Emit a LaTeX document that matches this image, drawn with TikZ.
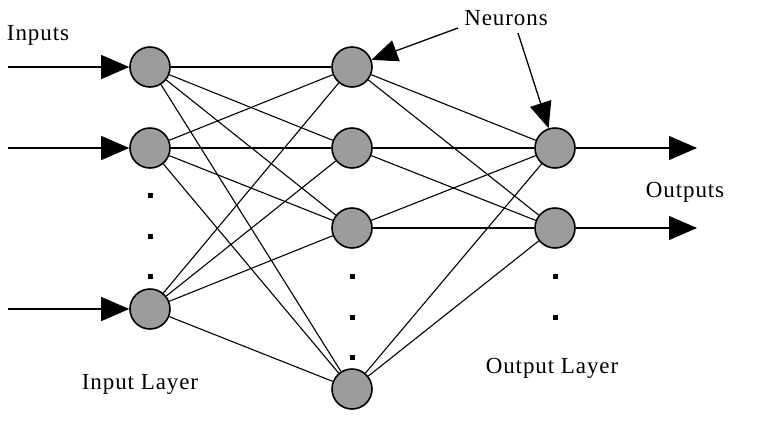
\documentclass[tikz,border=0pt]{standalone}
\usepackage{fontspec}
\setmainfont{Liberation Serif}
\usetikzlibrary{arrows.meta}
\definecolor{neurongray}{HTML}{9C9C9C}
\tikzset{
  neuron/.style={circle,draw=black,line width=1.6pt,fill=neurongray,minimum size=40pt,inner sep=0pt},
  link/.style={line width=1.1pt},
  flow/.style={line width=1.1pt,-{Triangle[length=28pt,width=24pt]}},
  pointer/.style={line width=1.3pt,-{Triangle[length=26pt,width=22pt]}},
  lbl/.style={font=\fontsize{23}{26}\selectfont\addfontfeature{LetterSpace=4},inner sep=0pt},
  dotmark/.style={fill=black,minimum size=5pt,inner sep=0pt}
}
\begin{document}
\begin{tikzpicture}[x=1pt,y=-1pt]
\useasboundingbox (0,0) rectangle (784,440);
% neurons
\node[neuron] (i1) at (150,67) {};
\node[neuron] (i2) at (150,148) {};
\node[neuron] (i3) at (150,309) {};
\node[neuron] (h1) at (352,67) {};
\node[neuron] (h2) at (352,148) {};
\node[neuron] (h3) at (352,228) {};
\node[neuron] (h4) at (352,389) {};
\node[neuron] (o1) at (555,148) {};
\node[neuron] (o2) at (555,228) {};
% dots
\foreach \y/\n in {195/a,236/b,276/c} \node[dotmark] (di\n) at (150,\y) {};
\foreach \y/\n in {276/a,317/b,357/c} \node[dotmark] (dh\n) at (352,\y) {};
\foreach \y/\n in {276/a,317/b} \node[dotmark] (do\n) at (555,\y) {};
% connections
\begin{scope}[on background layer/.style={}]
\foreach \a in {i1,i2,i3}
  \foreach \b in {h1,h2,h3,h4}
    \draw[link] (\a) -- (\b);
\foreach \a in {h1,h2,h3,h4}
  \foreach \b in {o1,o2}
    \draw[link] (\a) -- (\b);
\end{scope}
% input / output arrows
\coordinate (s1) at (8,67);
\coordinate (s2) at (8,148);
\coordinate (s3) at (8,309);
\coordinate (e1) at (697,148);
\coordinate (e2) at (697,228);
\draw[flow] (s1) -- (i1);
\draw[flow] (s2) -- (i2);
\draw[flow] (s3) -- (i3);
\draw[flow] (o1) -- (e1);
\draw[flow] (o2) -- (e2);
% labels
\node[lbl] (inputs) at (38,35) {Inputs};
\node[lbl] (neurons) at (506,18) {Neurons};
\node[lbl] (outputs) at (685,192) {Outputs};
\node[lbl] (inlayer) at (140,384) {Input Layer};
\node[lbl] (outlayer) at (552,368) {Output Layer};
\coordinate (p1) at (458,28);
\coordinate (p2) at (518,33);
\draw[pointer] (p1) -- (h1);
\draw[pointer] (p2) -- (o1);
\end{tikzpicture}
\end{document}
